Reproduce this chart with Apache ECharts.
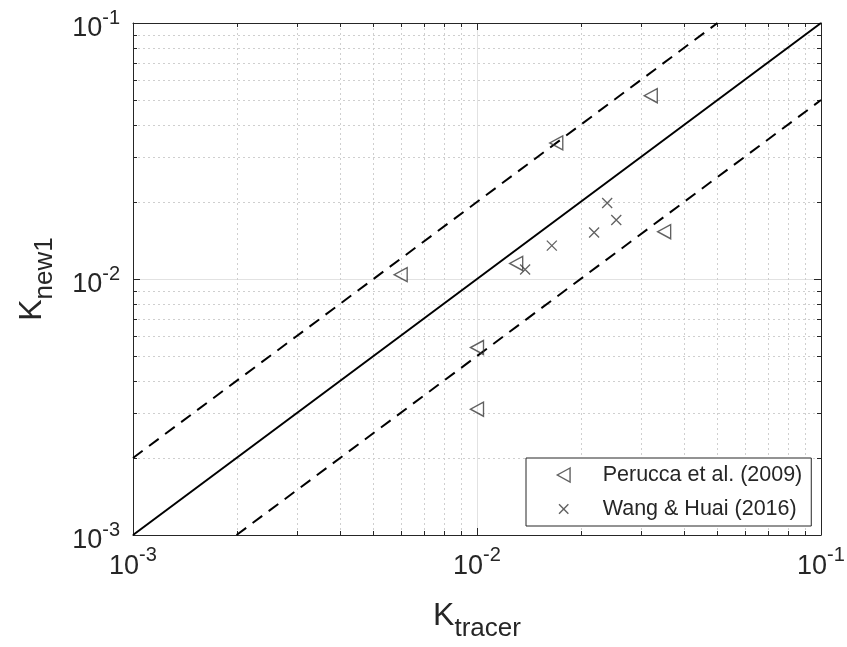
<!DOCTYPE html>
<html><head><meta charset="utf-8">
<script src="https://cdn.jsdelivr.net/npm/echarts@6/dist/echarts.min.js"></script>
<style>html,body{margin:0;padding:0;background:#fff}#c{width:847px;height:647px}</style>
</head><body><div id="c"></div>
<script>
// ---- data ----
const axisMin = 0.001, axisMax = 0.1;
const tickValues = [0.001, 0.01, 0.1];
const tickExponents = ['-3', '-2', '-1'];
const minorValues = [0.002,0.003,0.004,0.005,0.006,0.007,0.008,0.009,0.02,0.03,0.04,0.05,0.06,0.07,0.08,0.09];
const peruccaName = 'Perucca et al. (2009)';
const peruccaX = [0.006, 0.010, 0.010, 0.013, 0.017, 0.032, 0.035];
const peruccaY = [0.0104, 0.0054, 0.0031, 0.0115, 0.034, 0.052, 0.0153];
const wangName = 'Wang & Huai (2016)';
const wangX = [0.0138, 0.0165, 0.0219, 0.0239, 0.0254];
const wangY = [0.0109, 0.0135, 0.0152, 0.0198, 0.0170];
const lineOneToOne = [[0.001, 0.001], [0.1, 0.1]];
const lineUpper = [[0.001, 0.002], [0.05, 0.1]];
const lineLower = [[0.002, 0.001], [0.1, 0.05]];

// ---- style ----
const FONT = 'Liberation Sans, Arial, Helvetica, sans-serif';
const AX = '#262626';
const MK = '#3a3a3a';
const LEFT_TRI = 'path://M10,0L0,5.5L10,11Z';
const CROSS = 'path://M0,0L10,10M10,0L0,10';
const CROSS_LEGEND = 'path://M-2.5,-2.5M0,0L10,10M10,0L0,10M12.5,12.5';

function tickFmt(v) {
  const i = tickValues.findIndex(t => Math.abs(Math.log10(t) - Math.log10(v)) < 1e-6);
  return i < 0 ? '' : '{b|10}{s|' + tickExponents[i] + '}';
}
const tickRich = {
  b: {fontSize: 27, lineHeight: 27, padding: [12, 0, 0, 0], fontFamily: FONT, color: AX},
  s: {fontSize: 20, lineHeight: 20, padding: [0, 0, 10, 0], fontFamily: FONT, color: AX}
};
const nameRich = {
  k: {fontSize: 32, lineHeight: 32, verticalAlign: 'top', fontFamily: FONT, color: AX},
  t: {fontSize: 26, lineHeight: 26, padding: [26, 0, 0, 0], fontFamily: FONT, color: AX}
};
function baseAxis(extra) {
  return Object.assign({
    type: 'log', logBase: 10, min: axisMin, max: axisMax,
    axisLine: {show: true, onZero: false, lineStyle: {color: AX, width: 1}},
    axisTick: {show: true, inside: true, length: 7, lineStyle: {color: AX, width: 1}},
    minorTick: {show: false},
    splitLine: {show: false},
    axisLabel: {show: false}
  }, extra);
}

const chart = echarts.init(document.getElementById('c'), null, {renderer: 'canvas'});
chart.setOption({
  backgroundColor: '#fff',
  animation: false,
  grid: {left: 133, top: 23, right: 26, bottom: 112, containLabel: false, outerBoundsMode: 'none'},
  xAxis: [
    baseAxis({position: 'bottom',
      splitLine: {show: true, lineStyle: {color: '#e2e2e2', width: 1}},
      axisLabel: {show: true, margin: 12, formatter: tickFmt, rich: tickRich},
      name: '{k|K}{t|tracer}', nameLocation: 'middle', nameGap: 65,
      nameTextStyle: {rich: nameRich}}),
    baseAxis({position: 'top'})
  ],
  yAxis: [
    baseAxis({position: 'left',
      splitLine: {show: true, lineStyle: {color: '#e2e2e2', width: 1}},
      axisLabel: {show: true, margin: 13, formatter: tickFmt, rich: tickRich},
      name: '{k|K}{t|new1}', nameLocation: 'middle', nameGap: 85, nameRotate: 90,
      nameTextStyle: {rich: nameRich}}),
    baseAxis({position: 'right'})
  ],
  legend: {
    data: [{name: peruccaName}, {name: wangName, icon: CROSS_LEGEND}],
    orient: 'vertical', left: 526, top: 458,
    itemWidth: 14, itemHeight: 14, itemGap: 12,
    padding: [6, 9, 6, 30],
    backgroundColor: '#fff', borderColor: AX, borderWidth: 1, borderRadius: 0,
    itemStyle: {borderWidth: 1.4},
    textStyle: {fontSize: 21.5, lineHeight: 18, fontFamily: FONT, color: AX, padding: [0, 0, 0, 27]},
    selectedMode: false
  },
  series: [
    {
      type: 'custom', name: 'minorX', silent: true, z: 1, clip: false,
      data: minorValues.map(v => [v, axisMin]),
      renderItem(params, api) {
        const v = api.value(0);
        const p0 = api.coord([v, axisMin]);
        const p1 = api.coord([v, axisMax]);
        const x = Math.round(p0[0]) + 0.5;
        return {type: 'group', children: [
          {type: 'line', shape: {x1: x, y1: p0[1], x2: x, y2: p1[1]}, style: {stroke: '#cfcfcf', lineWidth: 1, lineDash: [2, 3]}},
          {type: 'line', shape: {x1: x, y1: p0[1], x2: x, y2: p0[1] - 4}, style: {stroke: AX, lineWidth: 1}},
          {type: 'line', shape: {x1: x, y1: p1[1], x2: x, y2: p1[1] + 4}, style: {stroke: AX, lineWidth: 1}}
        ]};
      }
    },
    {
      type: 'custom', name: 'minorY', silent: true, z: 1, clip: false,
      data: minorValues.map(v => [axisMin, v]),
      renderItem(params, api) {
        const v = api.value(1);
        const p0 = api.coord([axisMin, v]);
        const p1 = api.coord([axisMax, v]);
        const y = Math.round(p0[1]) + 0.5;
        return {type: 'group', children: [
          {type: 'line', shape: {x1: p0[0], y1: y, x2: p1[0], y2: y}, style: {stroke: '#cfcfcf', lineWidth: 1, lineDash: [2, 3]}},
          {type: 'line', shape: {x1: p0[0], y1: y, x2: p0[0] + 4, y2: y}, style: {stroke: AX, lineWidth: 1}},
          {type: 'line', shape: {x1: p1[0], y1: y, x2: p1[0] - 4, y2: y}, style: {stroke: AX, lineWidth: 1}}
        ]};
      }
    },
    {type: 'line', name: '1:1', data: lineOneToOne, symbol: 'none', silent: true, z: 3,
     lineStyle: {color: '#000', width: 2}},
    {type: 'line', name: 'upper', data: lineUpper, symbol: 'none', silent: true, z: 3,
     lineStyle: {color: '#000', width: 2, type: [12, 8]}},
    {type: 'line', name: 'lower', data: lineLower, symbol: 'none', silent: true, z: 3,
     lineStyle: {color: '#000', width: 2, type: [12, 8]}},
    {type: 'scatter', name: peruccaName, z: 4,
     data: peruccaX.map((x, i) => [x, peruccaY[i]]),
     symbol: LEFT_TRI, symbolSize: [13, 14],
     itemStyle: {color: 'rgba(0,0,0,0)', borderColor: MK, borderWidth: 1.4}},
    {type: 'scatter', name: wangName, z: 4,
     data: wangX.map((x, i) => [x, wangY[i]]),
     symbol: CROSS, symbolSize: 10,
     itemStyle: {color: 'rgba(0,0,0,0)', borderColor: MK, borderWidth: 1.3}}
  ]
});
</script>
</body></html>
